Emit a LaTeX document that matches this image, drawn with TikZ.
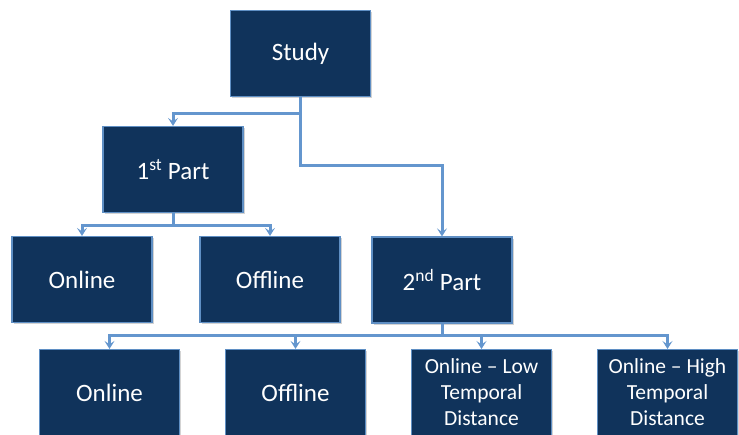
\documentclass[tikz,border=0pt]{standalone}
\usepackage{fontspec}
\setmainfont{Carlito}
\usetikzlibrary{arrows.meta,shadows}
\definecolor{navy}{HTML}{10335B}
\definecolor{rim}{HTML}{5F8FC4}
\definecolor{wire}{HTML}{6496CE}
\begin{document}
\begin{tikzpicture}[x=1pt,y=-1pt,
  box/.style={draw=rim,line width=1.2pt,fill=navy,text=white,minimum width=140pt,minimum height=86pt,
    align=center,inner sep=2pt,font=\fontsize{25}{30}\selectfont,
    drop shadow={shadow xshift=1.5pt,shadow yshift=-1.5pt,opacity=0.35}},
  small/.style={font=\fontsize{21.5}{26}\selectfont},
  conn/.style={draw=wire,line width=3pt,-{Stealth[length=8pt,width=10pt,inset=3.5pt]}}]
\useasboundingbox (0,0) rectangle (739,434);
\node[box] (study) at (300.5,53.5) {Study};
\node[box] (p1) at (173,169.5) {1\textsuperscript{st} Part};
\node[box] (on1) at (82,279.5) {Online};
\node[box] (off1) at (270,279.5) {Offline};
\node[box] (p2) at (442,280) {2\textsuperscript{nd} Part};
\node[box] (on2) at (109.5,392.5) {Online};
\node[box] (off2) at (295.5,392.5) {Offline};
\node[box,small,anchor=north] (low) at (481.5,349) {Online -- Low\\Temporal\\Distance};
\node[box,small,anchor=north] (high) at (667.5,349) {Online -- High\\Temporal\\Distance};
\draw[conn] (study.south) -- ++(0,16) -| (p1.north);
\draw[conn] (study.south) -- ++(0,68) -| (p2.north);
\draw[conn] (p1.south) -- ++(0,12) -| (on1.north);
\draw[conn] (p1.south) -- ++(0,12) -| (off1.north);
\draw[conn] (p2.south) -- ++(0,12) -| (on2.north);
\draw[conn] (p2.south) -- ++(0,12) -| (off2.north);
\draw[conn] (p2.south) -- ++(0,12) -| (low.north);
\draw[conn] (p2.south) -- ++(0,12) -| (high.north);
\end{tikzpicture}
\end{document}
